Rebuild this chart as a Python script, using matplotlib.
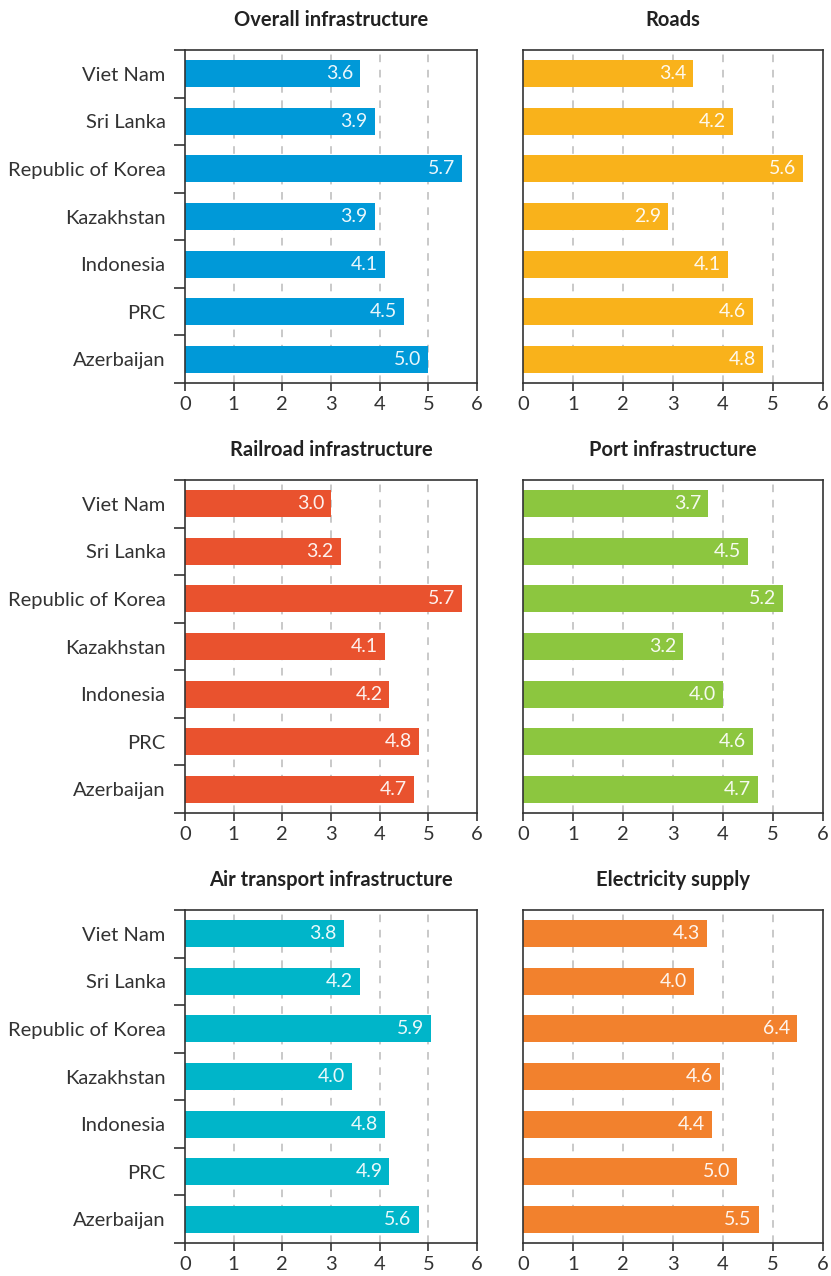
import matplotlib
matplotlib.use('Agg')
import matplotlib.pyplot as plt
import numpy as np

plt.rcParams['font.family'] = ['Lato', 'DejaVu Sans']

countries = ['Viet Nam', 'Sri Lanka', 'Republic of Korea', 'Kazakhstan',
             'Indonesia', 'PRC', 'Azerbaijan']

overall = [3.6, 3.9, 5.7, 3.9, 4.1, 4.5, 5.0]
roads = [3.4, 4.2, 5.6, 2.9, 4.1, 4.6, 4.8]
railroad = [3.0, 3.2, 5.7, 4.1, 4.2, 4.8, 4.7]
port = [3.7, 4.5, 5.2, 3.2, 4.0, 4.6, 4.7]
air = [3.8, 4.2, 5.9, 4.0, 4.8, 4.9, 5.6]
electricity = [4.3, 4.0, 6.4, 4.6, 4.4, 5.0, 5.5]

tick_labels = ['0', '1', '2', '3', '4', '5', '6']

# the bottom row in the source is drawn on a 0-7 scale with 0-6 tick labels
panels = [
    ('Overall infrastructure', overall, '#0099d8', 6),
    ('Roads', roads, '#f9b21b', 6),
    ('Railroad infrastructure', railroad, '#e9522e', 6),
    ('Port infrastructure', port, '#8cc63f', 6),
    ('Air transport infrastructure', air, '#00b5c9', 7),
    ('Electricity supply', electricity, '#f2812d', 7),
]

fig = plt.figure(figsize=(8.31, 12.76), dpi=100)

lefts = [185 / 831, 523 / 831]
widths = [292 / 831, 300 / 831]
bottoms = [1 - 383 / 1276, 1 - 813 / 1276, 1 - 1243 / 1276]
height = 333 / 1276

spine_col = '#333333'

for i, (title, vals, col, xmax) in enumerate(panels):
    row, c = divmod(i, 2)
    ax = fig.add_axes([lefts[c], bottoms[row], widths[c], height])
    y = np.arange(len(countries))
    ax.barh(y, vals, height=0.57, color=col, zorder=2)
    ax.set_ylim(len(countries) - 0.5, -0.5)
    ax.set_xlim(0, xmax)

    xt = np.linspace(0, xmax, 7)
    ax.set_xticks(xt)
    ax.set_xticklabels(tick_labels, fontsize=14.5, color='#333333')
    for g in xt[1:-1]:
        ax.axvline(g, color='#bbbbbb', lw=1.1, ls=(0, (5, 5)), zorder=1)
    ax.tick_params(axis='x', direction='out', length=6, width=1.2,
                   color=spine_col, pad=3)

    if c == 0:
        ax.set_yticks(y)
        ax.set_yticklabels(countries, fontsize=14.5, color='#333333')
        ax.set_yticks(np.arange(-0.5, len(countries)), minor=True)
        ax.tick_params(axis='y', which='major', length=0, pad=14)
        ax.tick_params(axis='y', which='minor', length=8, width=1.2,
                       color=spine_col)
    else:
        ax.set_yticks([])

    for s in ax.spines.values():
        s.set_color(spine_col)
        s.set_linewidth(1.2)

    for yi, v in zip(y, vals):
        ax.annotate('%.1f' % v, xy=(v, yi), xytext=(-5, 0),
                    textcoords='offset points', ha='right', va='center',
                    color='white', alpha=0.92, fontsize=14, zorder=3)

    ax.set_title(title, fontsize=14.5, fontweight='bold', color='#222222',
                 pad=17)

fig.savefig('out.png', dpi=100)
